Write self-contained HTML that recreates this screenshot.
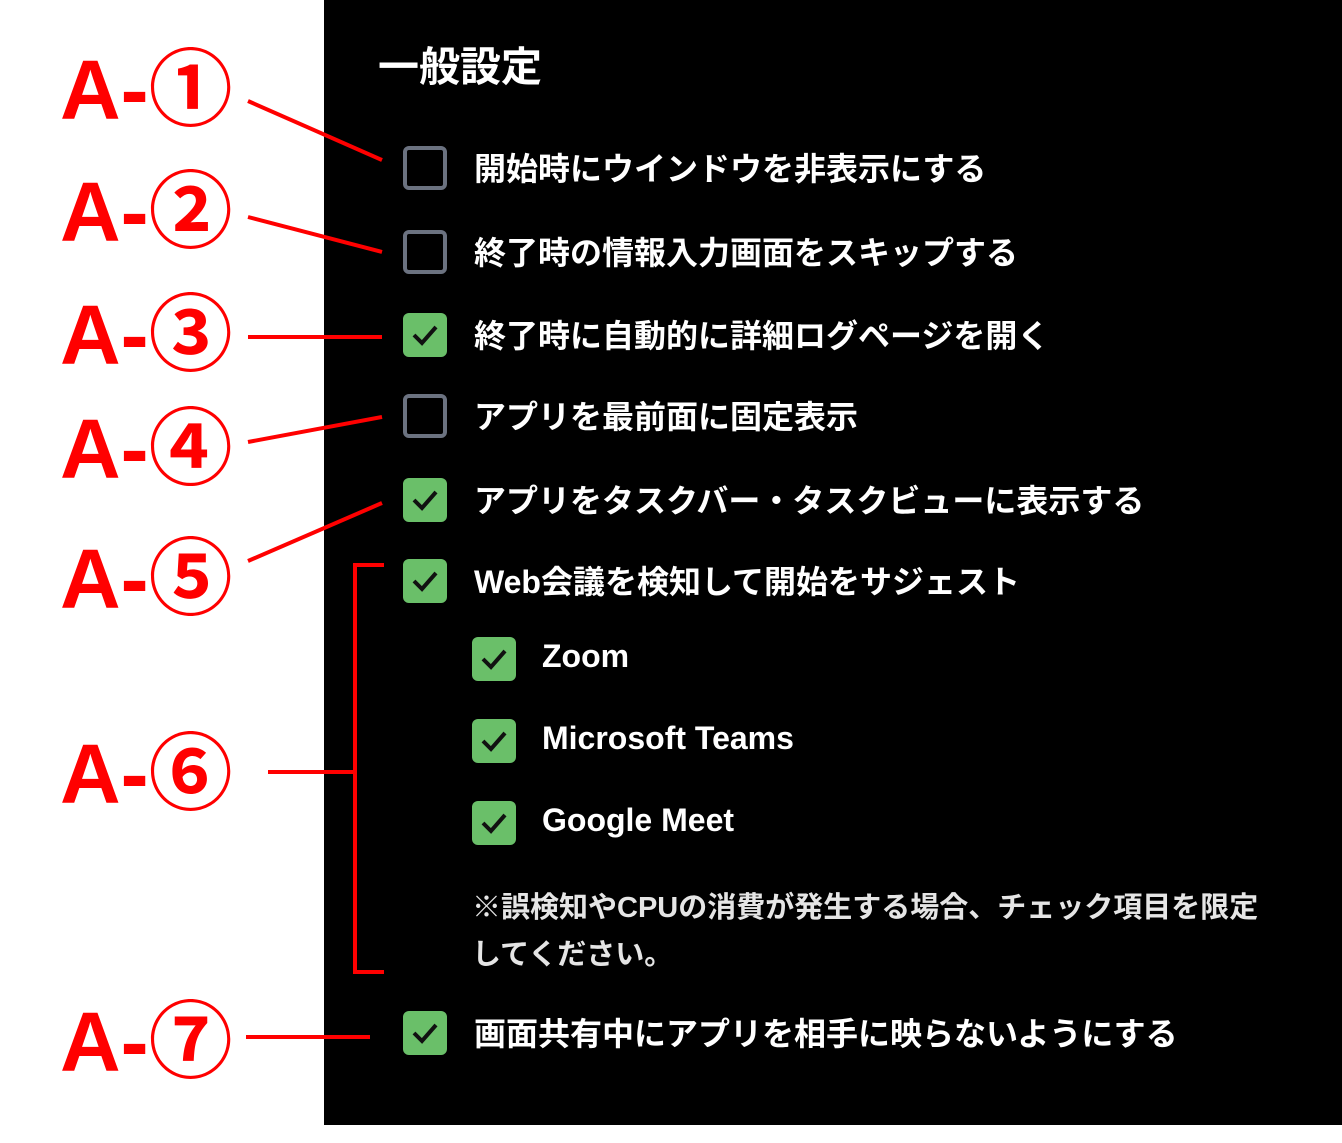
<!DOCTYPE html>
<html><head><meta charset="utf-8"><style>
html,body{margin:0;padding:0;background:#fff;width:1342px;height:1143px;overflow:hidden;position:relative;font-family:"Liberation Sans","Noto Sans CJK JP",sans-serif}
.panel{position:absolute;left:324px;top:0;width:1018px;height:1125px;background:#000}
.t{position:absolute;color:#fff;font-weight:bold;white-space:nowrap;font-family:"Liberation Sans","Noto Sans CJK JP",sans-serif}
.cb{position:absolute;width:44px;height:44px;border-radius:6px;box-sizing:border-box}
.off{border:4px solid #6b7280;background:#000}
.on{background:#6abf69}
.on svg{position:absolute;left:8px;top:10px}
.lab{position:absolute;color:#f00;font-weight:bold;font-size:84px;line-height:1;white-space:nowrap;font-family:"Liberation Sans","Noto Sans CJK JP",sans-serif}
</style></head><body>
<div class="panel"></div>
<div class="t" style="left:378px;top:33px;font-size:41px">一般設定</div>

<div class="cb off" style="left:403px;top:146px"></div>
<div class="t" style="left:474px;top:144px;font-size:32px">開始時にウインドウを非表示にする</div>
<div class="cb off" style="left:403px;top:230px"></div>
<div class="t" style="left:474px;top:228px;font-size:32px">終了時の情報入力画面をスキップする</div>
<div class="cb on" style="left:403px;top:313px"><svg width="28" height="24" viewBox="0 0 28 24"><path d="M3 12 L11 20 L25 4" stroke="#111" stroke-width="4" fill="none"/></svg></div>
<div class="t" style="left:474px;top:311px;font-size:32px">終了時に自動的に詳細ログページを開く</div>
<div class="cb off" style="left:403px;top:394px"></div>
<div class="t" style="left:474px;top:392px;font-size:32px">アプリを最前面に固定表示</div>
<div class="cb on" style="left:403px;top:478px"><svg width="28" height="24" viewBox="0 0 28 24"><path d="M3 12 L11 20 L25 4" stroke="#111" stroke-width="4" fill="none"/></svg></div>
<div class="t" style="left:474px;top:476px;font-size:32px">アプリをタスクバー・タスクビューに表示する</div>
<div class="cb on" style="left:403px;top:559px"><svg width="28" height="24" viewBox="0 0 28 24"><path d="M3 12 L11 20 L25 4" stroke="#111" stroke-width="4" fill="none"/></svg></div>
<div class="t" style="left:474px;top:557px;font-size:32px">Web会議を検知して開始をサジェスト</div>

<div class="cb on" style="left:472px;top:637px"><svg width="28" height="24" viewBox="0 0 28 24"><path d="M3 12 L11 20 L25 4" stroke="#111" stroke-width="4" fill="none"/></svg></div>
<div class="t" style="left:542px;top:638px;font-size:32px">Zoom</div>
<div class="cb on" style="left:472px;top:719px"><svg width="28" height="24" viewBox="0 0 28 24"><path d="M3 12 L11 20 L25 4" stroke="#111" stroke-width="4" fill="none"/></svg></div>
<div class="t" style="left:542px;top:720px;font-size:32px">Microsoft Teams</div>
<div class="cb on" style="left:472px;top:801px"><svg width="28" height="24" viewBox="0 0 28 24"><path d="M3 12 L11 20 L25 4" stroke="#111" stroke-width="4" fill="none"/></svg></div>
<div class="t" style="left:542px;top:802px;font-size:32px">Google Meet</div>
<div class="t" style="left:472px;top:884px;font-size:29px;color:#e5e5e5">※誤検知やCPUの消費が発生する場合、チェック項目を限定</div>
<div class="t" style="left:472px;top:931px;font-size:29px;color:#e5e5e5">してください。</div>

<div class="cb on" style="left:403px;top:1011px"><svg width="28" height="24" viewBox="0 0 28 24"><path d="M3 12 L11 20 L25 4" stroke="#111" stroke-width="4" fill="none"/></svg></div>
<div class="t" style="left:474px;top:1009px;font-size:32px">画面共有中にアプリを相手に映らないようにする</div>

<div class="lab" style="left:60px;top:48px">A-①</div>
<div class="lab" style="left:60px;top:170px">A-②</div>
<div class="lab" style="left:60px;top:293px">A-③</div>
<div class="lab" style="left:60px;top:407px">A-④</div>
<div class="lab" style="left:60px;top:537px">A-⑤</div>
<div class="lab" style="left:60px;top:732px">A-⑥</div>
<div class="lab" style="left:60px;top:1000px">A-⑦</div>

<svg style="position:absolute;left:0;top:0" width="1342" height="1143">
<g stroke="#f00" stroke-width="4" fill="none">
<line x1="248" y1="101" x2="382" y2="160"/>
<line x1="248" y1="217" x2="382" y2="252"/>
<line x1="248" y1="337" x2="382" y2="337"/>
<line x1="248" y1="442" x2="382" y2="417"/>
<line x1="248" y1="561" x2="382" y2="503"/>
<line x1="268" y1="772" x2="355" y2="772"/>
<polyline points="384,565 355,565 355,972 384,972"/>
<line x1="246" y1="1037" x2="370" y2="1037"/>
</g></svg>
</body></html>
